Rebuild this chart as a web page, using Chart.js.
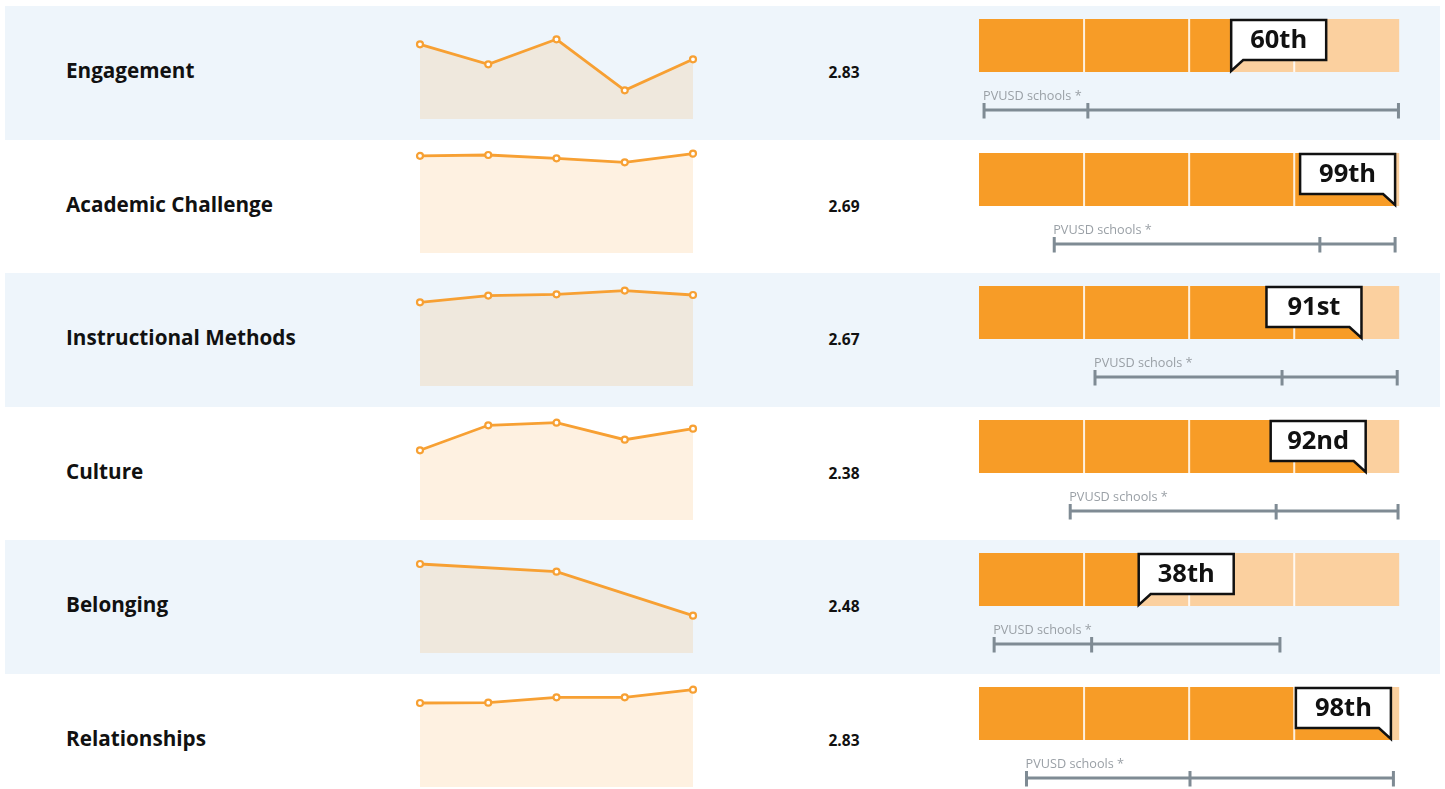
<!DOCTYPE html>
<html>
<head>
<meta charset="utf-8">
<script src="https://cdn.jsdelivr.net/npm/chart.js@4.4.1/dist/chart.umd.min.js"></script>
<style>
  html, body { margin:0; padding:0; background:#ffffff; width:1445px; height:789px; overflow:hidden; font-family:"Open Sans", "Noto Sans", sans-serif; }
  .band { position:absolute; left:5px; width:1435px; }
  .label { position:absolute; left:66px; height:30px; line-height:30px; font-weight:700; font-size:20.7px; color:#111111; white-space:nowrap; }
  .val { position:absolute; width:80px; left:804px; height:20px; line-height:20px; text-align:center; font-weight:700; font-size:15.5px; color:#111111; }
  canvas { position:absolute; }
</style>
</head>
<body>
<div id="root"></div>
<script>
// ---- data ----
const categories = ["Engagement", "Academic Challenge", "Instructional Methods", "Culture", "Belonging", "Relationships"];
const scores = ["2.83", "2.69", "2.67", "2.38", "2.48", "2.83"];
const periods = ["1", "2", "3", "4", "5"];
const trendEngagement = [75, 55, 80, 29, 60];
const trendAcademic   = [97.5, 98.3, 95, 91, 99.6];
const trendInstruct   = [84, 90.7, 92, 95.7, 91.3];
const trendCulture    = [70, 95, 97.6, 80.6, 91.6];
const trendBelonging  = [89.3, null, 81.6, null, 37.6];
const trendRelations  = [84.3, 84.6, 90, 90, 97.6];
const percentiles = [60, 99, 91, 92, 38, 98];
const percentileLabels = ["60th", "99th", "91st", "92nd", "38th", "98th"];
const quartiles = [25, 50, 75];
const districtMin = [1.2, 17.9, 27.6, 21.7, 3.6, 11.3];
const districtMid = [25.9, 81.1, 72.1, 70.7, 26.8, 50.2];
const districtMax = [99.8, 99.0, 99.5, 99.7, 71.6, 98.6];
const districtLabel = "PVUSD schools *";

const trends = [trendEngagement, trendAcademic, trendInstruct, trendCulture, trendBelonging, trendRelations];

// ---- styles ----
const ORANGE = "#f79c27";
const LIGHT = "#fbd09f";
const LINE = "#f7a033";
const RANGE = "#7f8b94";
const ROW_H = 133.6;
const ROW0 = 6;

const root = document.getElementById("root");

const decorPlugin = {
  id: "pctDecor",
  afterDatasetsDraw(chart, args, opts) {
    const i = opts.row;
    const ctx = chart.ctx;
    const xs = chart.scales.x;
    const a = chart.chartArea;
    ctx.save();
    // quartile separators
    ctx.fillStyle = "rgba(255,255,255,0.85)";
    quartiles.forEach(q => {
      const x = xs.getPixelForValue(q);
      ctx.fillRect(x - 1, a.top, 2, a.bottom - a.top);
    });
    // callout
    const tip = xs.getPixelForValue(percentiles[i]);
    const W = 95, tail = 12;
    const top = a.top + 1, bottom = a.top + 41, tipY = a.bottom - 1;
    const leftSide = tip + W <= a.right;
    ctx.beginPath();
    if (leftSide) {
      ctx.moveTo(tip, top);
      ctx.lineTo(tip + W, top);
      ctx.lineTo(tip + W, bottom);
      ctx.lineTo(tip + tail, bottom);
      ctx.lineTo(tip, tipY);
    } else {
      ctx.moveTo(tip, top);
      ctx.lineTo(tip - W, top);
      ctx.lineTo(tip - W, bottom);
      ctx.lineTo(tip - tail, bottom);
      ctx.lineTo(tip, tipY);
    }
    ctx.closePath();
    ctx.fillStyle = "#ffffff";
    ctx.fill();
    ctx.lineWidth = 2.5;
    ctx.strokeStyle = "#111111";
    ctx.lineJoin = "miter";
    ctx.stroke();
    ctx.fillStyle = "#111111";
    ctx.font = 'bold 25.5px "Open Sans", "Noto Sans", sans-serif';
    ctx.textAlign = "center";
    ctx.textBaseline = "middle";
    const cx = leftSide ? tip + W / 2 : tip - W / 2;
    ctx.fillText(percentileLabels[i], cx, (top + bottom) / 2 + 1);

    // district range bar
    const y = a.bottom + 38;
    const x0 = xs.getPixelForValue(districtMin[i]);
    const x1 = xs.getPixelForValue(districtMid[i]);
    const x2 = xs.getPixelForValue(districtMax[i]);
    ctx.fillStyle = RANGE;
    ctx.fillRect(x0, y - 1.5, x2 - x0, 3);
    [x0, x1, x2].forEach(x => ctx.fillRect(x - 1.5, y - 7, 3, 15.5));
    ctx.fillStyle = "#9aa0a6";
    ctx.font = '12.7px "Open Sans", "Noto Sans", sans-serif';
    ctx.textAlign = "left";
    ctx.textBaseline = "alphabetic";
    ctx.fillText(districtLabel, x0 - 1, a.bottom + 28);
    ctx.restore();
  }
};

categories.forEach((cat, i) => {
  const top = Math.round(ROW0 + i * ROW_H);
  const nextTop = Math.round(ROW0 + (i + 1) * ROW_H);
  if (i % 2 === 0) {
    const b = document.createElement("div");
    b.className = "band";
    b.style.top = top + "px";
    b.style.height = (nextTop - top) + "px";
    b.style.background = "#eef5fb";
    root.appendChild(b);
  }
  const lab = document.createElement("div");
  lab.className = "label";
  lab.style.top = (top + 64 - 15) + "px";
  lab.textContent = cat;
  root.appendChild(lab);

  const v = document.createElement("div");
  v.className = "val";
  v.style.top = (top + 66 - 10) + "px";
  v.textContent = scores[i];
  root.appendChild(v);

  // sparkline
  const sc = document.createElement("canvas");
  sc.width = 293; sc.height = 118;
  sc.style.left = "410px"; sc.style.top = (top + 3) + "px";
  sc.style.width = "293px"; sc.style.height = "118px";
  root.appendChild(sc);
  new Chart(sc, {
    type: "line",
    data: {
      labels: periods,
      datasets: [{
        data: trends[i],
        borderColor: LINE,
        borderWidth: 2.8,
        backgroundColor: "rgba(247,157,39,0.14)",
        fill: "origin",
        pointRadius: 3,
        pointBorderWidth: 2.2,
        pointBackgroundColor: "#ffffff",
        pointBorderColor: LINE,
        tension: 0,
        spanGaps: true,
        clip: false
      }]
    },
    options: {
      responsive: false, animation: false, devicePixelRatio: 1, events: [],
      layout: { padding: { left: 10, right: 10, top: 10.3, bottom: 7.7 } },
      plugins: { legend: { display: false }, tooltip: { enabled: false } },
      scales: { x: { display: false }, y: { display: false, min: 0, max: 100 } }
    }
  });

  // percentile bar + district range
  const pc = document.createElement("canvas");
  pc.width = 440; pc.height = 125;
  pc.style.left = "970px"; pc.style.top = top + "px";
  pc.style.width = "440px"; pc.style.height = "125px";
  root.appendChild(pc);
  new Chart(pc, {
    type: "bar",
    data: {
      labels: [cat],
      datasets: [
        { data: [percentiles[i]], backgroundColor: ORANGE, borderWidth: 0, barPercentage: 1, categoryPercentage: 1 },
        { data: [100 - percentiles[i]], backgroundColor: LIGHT, borderWidth: 0, barPercentage: 1, categoryPercentage: 1 }
      ]
    },
    options: {
      indexAxis: "y",
      responsive: false, animation: false, devicePixelRatio: 1, events: [],
      layout: { padding: { left: 9, right: 10.7, top: 13, bottom: 59 } },
      plugins: { legend: { display: false }, tooltip: { enabled: false }, pctDecor: { row: i } },
      scales: {
        x: { display: false, stacked: true, min: 0, max: 100 },
        y: { display: false, stacked: true }
      }
    },
    plugins: [decorPlugin]
  });
});
</script>
</body>
</html>
